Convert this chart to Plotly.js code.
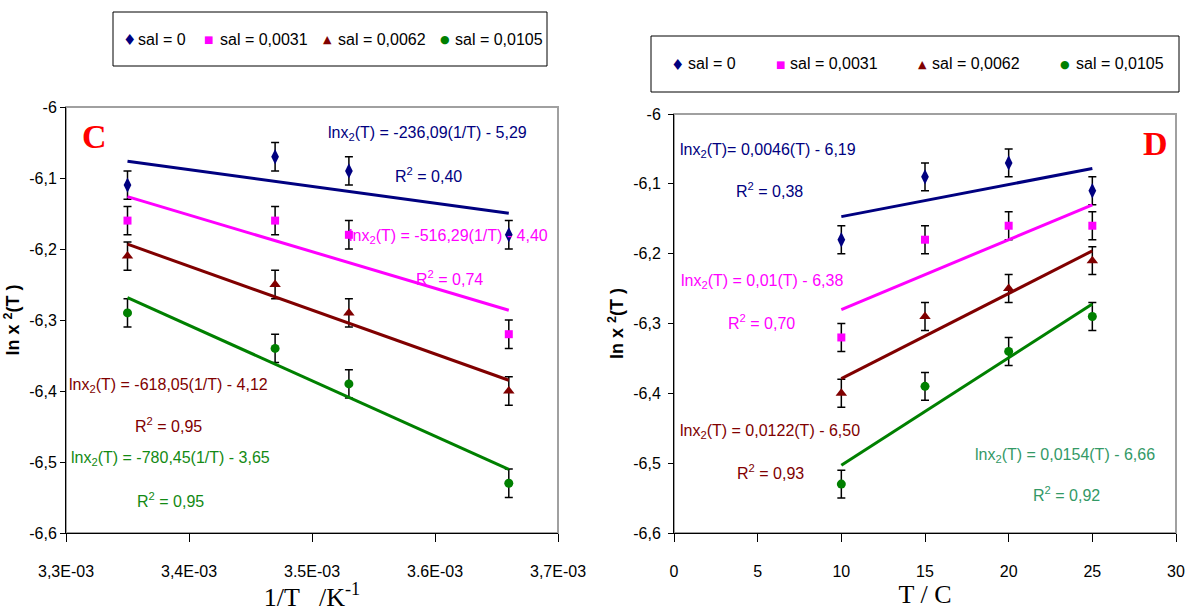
<!DOCTYPE html>
<html><head><meta charset="utf-8">
<script src="https://cdn.plot.ly/plotly-3.0.1.min.js"></script>
<style>html,body{margin:0;padding:0;background:#fff}#chart{width:1190px;height:612px}</style>
</head><body><div id="chart"></div>
<script>
// ---------- data ----------
const seriesNames = ['sal = 0', 'sal = 0,0031', 'sal = 0,0062', 'sal = 0,0105'];
// panel C : ln x2 vs 1/T
const invT = [0.00335, 0.00347, 0.00353, 0.00366];
const lnxC_sal0    = [-6.11, -6.07, -6.09, -6.18];
const lnxC_sal0031 = [-6.16, -6.16, -6.18, -6.32];
const lnxC_sal0062 = [-6.21, -6.25, -6.29, -6.40];
const lnxC_sal0105 = [-6.29, -6.34, -6.39, -6.53];
// panel D : ln x2 vs T
const tempC = [10, 15, 20, 25];
const lnxD_sal0    = [-6.18, -6.09, -6.07, -6.11];
const lnxD_sal0031 = [-6.32, -6.18, -6.16, -6.16];
const lnxD_sal0062 = [-6.40, -6.29, -6.25, -6.21];
const lnxD_sal0105 = [-6.53, -6.39, -6.34, -6.29];
const errorValue = 0.02;
// ticks
const xTickValsC = [0.0033, 0.0034, 0.0035, 0.0036, 0.0037];
const xTickTextC = ['3,3E-03', '3,4E-03', '3.5E-03', '3.6E-03', '3,7E-03'];
const xTickValsD = [0, 5, 10, 15, 20, 25, 30];
const yTickVals = [-6, -6.1, -6.2, -6.3, -6.4, -6.5, -6.6];
const yTickText = ['-6', '-6,1', '-6,2', '-6,3', '-6,4', '-6,5', '-6,6'];
// fit labels
const eqC = ['lnx<sub>2</sub>(T) = -236,09(1/T) - 5,29', 'lnx<sub>2</sub>(T) = -516,29(1/T) - 4,40',
             'lnx<sub>2</sub>(T) = -618,05(1/T) - 4,12', 'lnx<sub>2</sub>(T) = -780,45(1/T) - 3,65'];
const r2C = ['R<sup>2</sup> = 0,40', 'R<sup>2</sup> = 0,74', 'R<sup>2</sup> = 0,95', 'R<sup>2</sup> = 0,95'];
const eqD = ['lnx<sub>2</sub>(T)= 0,0046(T) - 6,19', 'lnx<sub>2</sub>(T) = 0,01(T) - 6,38',
             'lnx<sub>2</sub>(T) = 0,0122(T) - 6,50', 'lnx<sub>2</sub>(T) = 0,0154(T) - 6,66'];
const r2D = ['R<sup>2</sup> = 0,38', 'R<sup>2</sup> = 0,70', 'R<sup>2</sup> = 0,93', 'R<sup>2</sup> = 0,92'];

// ---------- styles ----------
const FN = '"Liberation Sans Narrow", "Arial Narrow", "Liberation Sans", Arial, sans-serif';
const SERIF = '"Liberation Serif", "Times New Roman", serif';
const GLYPH = '"DejaVu Sans", sans-serif';
const colors = ['#000080', '#ff00ff', '#800000', '#008000'];
const labelColorsC = ['#000080', '#ff00ff', '#800000', '#138a13'];
const labelColorsD = ['#000080', '#ff00ff', '#800000', '#339966'];
const symbols = ['diamond-tall', 'square', 'triangle-up', 'circle'];
const sizes = [11, 8, 10, 9];
const legendGlyphs = ['\u2666', '\u25A0', '\u25B2', '\u25CF'];
const legendGlyphSizes = [15, 10, 11, 11];

function linFit(x, y) {
  const n = x.length;
  const mx = x.reduce((a, b) => a + b, 0) / n;
  const my = y.reduce((a, b) => a + b, 0) / n;
  let sxy = 0, sxx = 0;
  for (let i = 0; i < n; i++) { sxy += (x[i] - mx) * (y[i] - my); sxx += (x[i] - mx) ** 2; }
  const b = sxy / sxx, a = my - b * mx;
  const xs = [Math.min(...x), Math.max(...x)];
  return { x: xs, y: xs.map(v => a + b * v) };
}

const seriesC = [lnxC_sal0, lnxC_sal0031, lnxC_sal0062, lnxC_sal0105];
const seriesD = [lnxD_sal0, lnxD_sal0031, lnxD_sal0062, lnxD_sal0105];
const traces = [];

function addPanel(xv, ys, xa, ya) {
  ys.forEach((y, i) => {
    traces.push({
      x: xv, y: y, xaxis: xa, yaxis: ya, type: 'scatter', mode: 'markers',
      name: seriesNames[i], showlegend: false,
      marker: { symbol: symbols[i], size: sizes[i], color: colors[i] },
      error_y: { type: 'constant', value: errorValue, color: '#000', thickness: 1.5, width: 4 }
    });
  });
  ys.forEach((y, i) => {
    const f = linFit(xv, y);
    traces.push({
      x: f.x, y: f.y, xaxis: xa, yaxis: ya, type: 'scatter', mode: 'lines',
      name: seriesNames[i] + ' fit', showlegend: false, hoverinfo: 'skip',
      line: { color: colors[i], width: 3 }
    });
  });
}
addPanel(invT, seriesC, 'x', 'y');
addPanel(tempC, seriesD, 'x2', 'y2');

// ---------- annotations ----------
const W = 1190, H = 612;
const P = (px, py) => ({ x: px / W, y: 1 - py / H });
const posEqC = [[427, 133], [448, 237], [168, 385], [170, 458]];
const posR2C = [[428, 175], [449, 278], [168, 425], [170, 500]];
const posEqD = [[768, 150], [762, 282], [770, 431], [1065, 455]];
const posR2D = [[769, 190], [762, 322], [770, 472], [1066, 494]];
const annotations = [];
function addText(text, pos, color, size, family, anchor) {
  const p = P(pos[0], pos[1]);
  annotations.push({ xref: 'paper', yref: 'paper', x: p.x, y: p.y, xanchor: anchor || 'center', yanchor: 'middle',
    text: text, showarrow: false, font: { family: family || FN, size: size || 16, color: color } });
}
for (let i = 0; i < 4; i++) {
  addText(eqC[i], posEqC[i], labelColorsC[i]);
  addText(r2C[i], posR2C[i], labelColorsC[i]);
  addText(eqD[i], posEqD[i], labelColorsD[i]);
  addText(r2D[i], posR2D[i], labelColorsD[i]);
}
addText('<b>C</b>', [95, 136], '#ff0000', 34, SERIF);
addText('<b>D</b>', [1155, 143], '#ff0000', 34, SERIF);

// legends (one per panel): symbol + series name inside a framed box
const legendBoxes = [{ x0: 113, x1: 547, y0: 12, y1: 66 }, { x0: 651, x1: 1179, y0: 36, y1: 92 }];
const legendMarkerX = [[129, 209, 327, 445], [677, 780, 922, 1065]];
const legendTextX = [[136, 218, 336, 453], [686, 788, 930, 1074]];
legendBoxes.forEach((b, k) => {
  const cy = (b.y0 + b.y1) / 2;
  for (let i = 0; i < 4; i++) {
    addText(legendGlyphs[i], [legendMarkerX[k][i], cy + 1], colors[i], legendGlyphSizes[i], GLYPH);
    addText(seriesNames[i], [legendTextX[k][i], cy], '#000', 16, FN, 'left');
  }
});

// ---------- layout ----------
const tickFont = { family: FN, size: 16, color: '#000' };
const yTitle = { text: '<b>ln x <sup>2</sup>(T )</b>', font: { family: '"Liberation Sans", Arial, sans-serif', size: 18, color: '#000' }, standoff: 4 };
function xAxis(dom, range, extra) {
  return Object.assign({
    domain: dom, range: range, ticks: 'outside', ticklen: 8, tickwidth: 1, tickcolor: '#000',
    showline: true, linecolor: '#000', linewidth: 1, showgrid: false, zeroline: false,
    tickfont: tickFont, ticklabelstandoff: 16, automargin: false, fixedrange: true
  }, extra);
}
function yAxis(dom, extra) {
  return Object.assign({
    domain: dom, range: [-6.6, -6], tickvals: yTickVals, ticktext: yTickText,
    ticks: 'outside', ticklen: 5, tickwidth: 1, tickcolor: '#000',
    showline: true, linecolor: '#000', linewidth: 1, showgrid: false, zeroline: false,
    tickfont: tickFont, automargin: false, title: yTitle, fixedrange: true
  }, extra);
}
const shapes = [
  { type: 'rect', xref: 'x domain', yref: 'y domain', x0: 0, x1: 1, y0: 0, y1: 1, line: { color: '#a0a0a0', width: 2 }, layer: 'below' },
  { type: 'rect', xref: 'x2 domain', yref: 'y2 domain', x0: 0, x1: 1, y0: 0, y1: 1, line: { color: '#a0a0a0', width: 2 }, layer: 'below' }
];
legendBoxes.forEach(b => {
  const a = P(b.x0, b.y1), c = P(b.x1, b.y0);
  shapes.push({ type: 'rect', xref: 'paper', yref: 'paper', x0: a.x, x1: c.x, y0: a.y, y1: c.y,
    line: { color: '#000', width: 1 }, fillcolor: '#fff', layer: 'below' });
});
const layout = {
  width: W, height: H, margin: { l: 0, r: 0, t: 0, b: 0 },
  paper_bgcolor: '#fff', plot_bgcolor: '#fff', showlegend: false,
  xaxis: xAxis([66 / W, 558 / W], [0.0033, 0.0037], {
    anchor: 'y', tickvals: xTickValsC, ticktext: xTickTextC,
    title: { text: '1/T   /K<sup>-1</sup>', font: { family: SERIF, size: 26, color: '#000' }, standoff: 2 }
  }),
  yaxis: yAxis([1 - 533 / H, 1 - 107 / H], { anchor: 'x' }),
  xaxis2: xAxis([674 / W, 1176 / W], [0, 30], {
    anchor: 'y2', tickvals: xTickValsD,
    title: { text: 'T / C', font: { family: SERIF, size: 26, color: '#000' }, standoff: 2 }
  }),
  yaxis2: yAxis([1 - 533 / H, 1 - 114 / H], { anchor: 'x2', ticklabelstandoff: 4 }),
  shapes: shapes,
  annotations: annotations
};
Plotly.newPlot('chart', traces, layout, { displayModeBar: false, staticPlot: true });
</script></body></html>
